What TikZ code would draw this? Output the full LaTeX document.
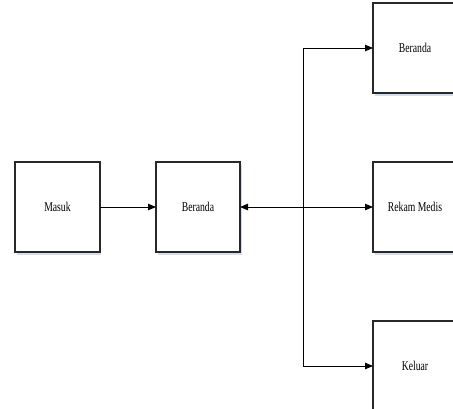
\documentclass[tikz,border=0pt]{standalone}
\usepackage{fontspec}
\setmainfont{Liberation Serif}
\usetikzlibrary{arrows.meta}
\definecolor{boxline}{RGB}{40,40,40}
\definecolor{shadowc}{RGB}{215,222,235}
\newcommand{\boxtext}[1]{\fontsize{13.5}{16}\selectfont\scalebox{0.72}[1]{#1}}
\tikzset{
  box/.style={draw=boxline, line width=1.1bp, fill=white, minimum width=84bp, minimum height=90bp, inner sep=0pt, outer sep=0pt},
  shadowbox/.style={fill=shadowc, draw=none, minimum width=84bp, minimum height=90bp, inner sep=0pt},
  arr/.style={line width=0.9bp, draw=black, -{Triangle[length=8bp,width=6.5bp]}},
  ln/.style={line width=0.9bp, draw=black}
}
\begin{document}
\begin{tikzpicture}[x=1bp,y=-1bp]
\useasboundingbox (0,0) rectangle (453,408);
% shadows
\foreach \cx/\cy in {57.5/207, 198/207, 415/48, 415/207, 415/366}
  \node[shadowbox] at (\cx+1.5,\cy+2.5) {};
% boxes
\node[box, minimum width=85bp] (masuk) at (57.5,207) {\boxtext{Masuk}};
\node[box] (beranda) at (198,207) {\boxtext{Beranda}};
\node[box] (beranda2) at (415,48) {\boxtext{Beranda}};
\node[box] (rekam) at (415,207) {\boxtext{Rekam Medis}};
\node[box] (keluar) at (415,366) {\boxtext{Keluar}};
% junctions
\coordinate (jtop) at (303,48);
\coordinate (jmid) at (303,207);
\coordinate (jbot) at (303,366);
% connectors
\draw[arr] (masuk) -- (beranda);
\draw[ln] (jtop) -- (jbot);
\draw[arr] (jtop) -- (beranda2);
\draw[arr] (jbot) -- (keluar);
\draw[arr] (jmid) -- (beranda);
\draw[arr] (jmid) -- (rekam);
\end{tikzpicture}
\end{document}
